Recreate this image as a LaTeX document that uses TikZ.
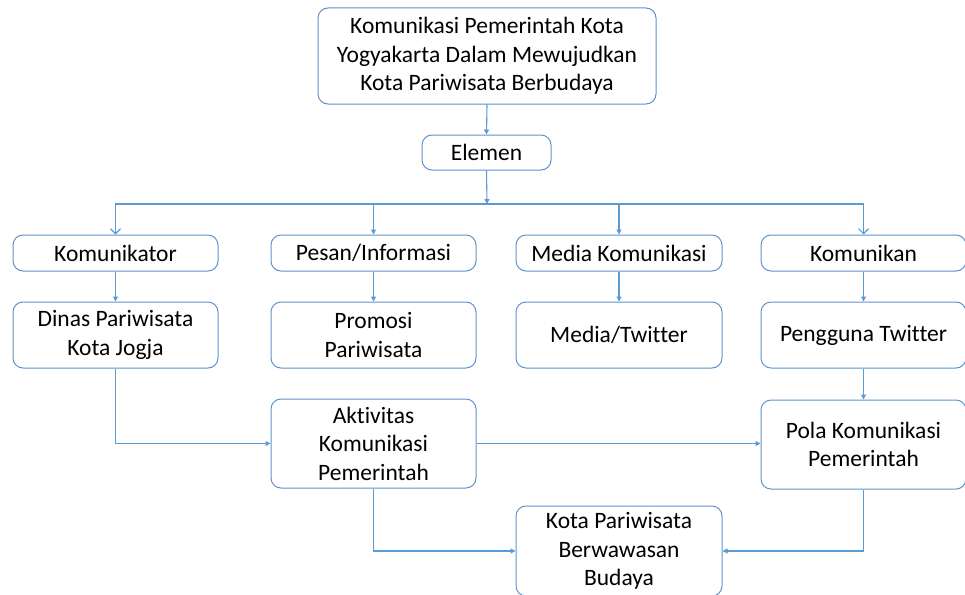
\documentclass[tikz,border=0pt]{standalone}
\usepackage{fontspec}
\setmainfont{Carlito}[Ligatures={NoCommon}]
\usetikzlibrary{arrows.meta}
\definecolor{lineblue}{RGB}{91,155,213}
\definecolor{boxblue}{RGB}{96,146,202}
\begin{document}
\begin{tikzpicture}[x=1pt,y=-1pt,
  box/.style={draw=boxblue,line width=1pt,rounded corners=10pt,align=center,
    font=\fontsize{23.5}{28.5}\selectfont,inner sep=0pt},
  conn/.style={draw=lineblue,line width=1.1pt,-{Triangle[length=5pt,width=5pt]}},
  openconn/.style={draw=lineblue,line width=1.1pt,-{Straight Barb[length=5pt,width=10pt]}}]
\useasboundingbox (0,0) rectangle (965,594);
\node[box,minimum width=338pt,minimum height=96pt] (top) at (487,56)
  {Komunikasi Pemerintah Kota\\Yogyakarta Dalam Mewujudkan\\Kota Pariwisata Berbudaya};
\node[box,minimum width=129pt,minimum height=35pt] (elemen) at (486.5,152.5) {Elemen};
\node[box,minimum width=205pt,minimum height=36pt] (k1) at (115.5,253) {Komunikator};
\node[box,minimum width=205pt,minimum height=36pt] (k2) at (373.5,253) {Pesan/Informasi};
\node[box,minimum width=206pt,minimum height=36pt] (k3) at (619,253) {Media Komunikasi};
\node[box,minimum width=205pt,minimum height=36pt] (k4) at (863.5,253) {Komunikan};
\node[box,minimum width=205pt,minimum height=66pt] (d1) at (115.5,335) {Dinas Pariwisata\\Kota Jogja};
\node[box,minimum width=205pt,minimum height=66pt] (d2) at (373.5,335) {Promosi\\Pariwisata};
\node[box,minimum width=206pt,minimum height=66pt] (d3) at (619,335) {Media/Twitter};
\node[box,minimum width=205pt,minimum height=66pt] (d4) at (863.5,335) {Pengguna Twitter};
\node[box,minimum width=205pt,minimum height=89pt] (akt) at (373.5,443.5) {Aktivitas\\Komunikasi\\Pemerintah};
\node[box,minimum width=205pt,minimum height=89pt] (pola) at (863.5,444.5) {Pola Komunikasi\\Pemerintah};
\node[box,minimum width=206pt,minimum height=90pt] (kota) at (619,551) {Kota Pariwisata\\Berwawasan\\Budaya};
\coordinate (bus) at (487,204);
\draw[conn] (top.south) -- (elemen.north);
\draw[conn] (elemen.south) -- (bus);
\draw[openconn] (bus) -| (k1.north);
\draw[conn] (bus) -| (k2.north);
\draw[conn] (bus) -| (k3.north);
\draw[openconn] (bus) -| (k4.north);
\draw[conn] (k1.south) -- (d1.north);
\draw[conn] (k2.south) -- (d2.north);
\draw[conn] (k3.south) -- (d3.north);
\draw[conn] (k4.south) -- (d4.north);
\draw[conn] (d1.south) |- (akt.west);
\draw[conn] (akt.east) -- (akt.east -| pola.west);
\draw[conn] (d4.south) -- (pola.north);
\draw[conn] (akt.south) |- (kota.west);
\draw[conn] (pola.south) |- (kota.east);
\end{tikzpicture}
\end{document}
